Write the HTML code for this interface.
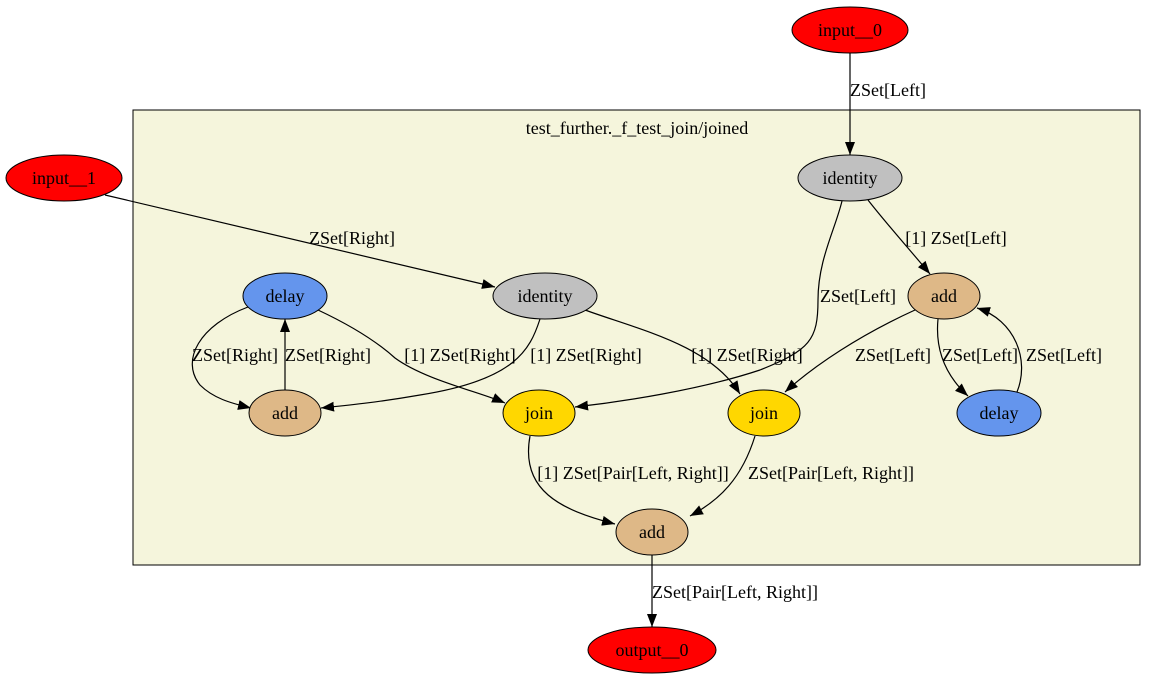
<!DOCTYPE html>
<html><head><meta charset="utf-8"><style>
html,body{margin:0;padding:0;background:#fff;}
svg{display:block;}
text{font-family:"Liberation Serif",serif;font-size:18px;fill:#000;}
</style></head><body>
<svg width="1156" height="679" viewBox="0 0 1156 679" xmlns="http://www.w3.org/2000/svg">
<defs><marker id="a" markerWidth="13" markerHeight="10" refX="13" refY="5" orient="auto" markerUnits="userSpaceOnUse"><polygon points="0,0 13,5 0,10" fill="#000"/></marker></defs>
<rect x="133" y="110" width="1007" height="455" fill="#f5f5dc" stroke="#000"/>
<text x="637" y="134" text-anchor="middle">test_further._f_test_join/joined</text>
<g fill="none" stroke="#000" stroke-width="1.2" marker-end="url(#a)">
<path d="M850,53 L850,155"/>
<path d="M105,195 L495,287"/>
<path d="M868,200 C885,222 910,250 930,274"/>
<path d="M842,201 C835,230 818,260 818,300 C818,340 810,350 760,370 C700,390 620,402 575,407"/>
<path d="M540,319 C530,350 515,380 420,395 C380,402 350,405 321,408"/>
<path d="M585,310 C640,330 710,345 740,394"/>
<path d="M318,310 C350,325 375,340 395,358 C425,380 480,392 505,403"/>
<path d="M248,307 C200,325 180,360 200,385 C213,398 230,403 251,408"/>
<path d="M285,390 L285,319"/>
<path d="M915,310 C860,335 815,365 785,392"/>
<path d="M938,319 C935,350 945,375 968,396"/>
<path d="M1017,392 C1030,360 1015,320 977,308"/>
<path d="M530,436 C520,490 560,510 615,524"/>
<path d="M755,436 C742,478 720,500 690,516"/>
<path d="M652,555 L652,627"/>
</g>
<g stroke="#000" stroke-width="1">
<ellipse cx="850" cy="30" rx="58" ry="23" fill="#ff0000"/>
<ellipse cx="64" cy="178" rx="58" ry="23" fill="#ff0000"/>
<ellipse cx="652" cy="650" rx="64" ry="23" fill="#ff0000"/>
<ellipse cx="850" cy="178" rx="52" ry="23" fill="#c0c0c0"/>
<ellipse cx="545" cy="296" rx="52" ry="23" fill="#c0c0c0"/>
<ellipse cx="285" cy="296" rx="42" ry="23" fill="#6495ed"/>
<ellipse cx="944" cy="296" rx="36" ry="23" fill="#deb887"/>
<ellipse cx="285" cy="413" rx="36" ry="23" fill="#deb887"/>
<ellipse cx="539" cy="413" rx="36" ry="23" fill="#ffd700"/>
<ellipse cx="764" cy="413" rx="36" ry="23" fill="#ffd700"/>
<ellipse cx="999" cy="413" rx="42" ry="23" fill="#6495ed"/>
<ellipse cx="652" cy="532" rx="36" ry="23" fill="#deb887"/>
</g>
<g text-anchor="middle">
<text x="850" y="36">input__0</text>
<text x="64" y="184">input__1</text>
<text x="652" y="656">output__0</text>
<text x="850" y="184">identity</text>
<text x="545" y="302">identity</text>
<text x="285" y="302">delay</text>
<text x="944" y="302">add</text>
<text x="285" y="419">add</text>
<text x="539" y="419">join</text>
<text x="764" y="419">join</text>
<text x="999" y="419">delay</text>
<text x="652" y="538">add</text>
<text x="888" y="96">ZSet[Left]</text>
<text x="352" y="244">ZSet[Right]</text>
<text x="956" y="244">[1] ZSet[Left]</text>
<text x="858" y="302">ZSet[Left]</text>
<text x="586" y="361">[1] ZSet[Right]</text>
<text x="747" y="361">[1] ZSet[Right]</text>
<text x="460" y="361">[1] ZSet[Right]</text>
<text x="235" y="361">ZSet[Right]</text>
<text x="328" y="361">ZSet[Right]</text>
<text x="893" y="361">ZSet[Left]</text>
<text x="980" y="361">ZSet[Left]</text>
<text x="1064" y="361">ZSet[Left]</text>
<text x="633" y="479">[1] ZSet[Pair[Left, Right]]</text>
<text x="831" y="479">ZSet[Pair[Left, Right]]</text>
<text x="735" y="598">ZSet[Pair[Left, Right]]</text>
</g>
</svg>
</body></html>
